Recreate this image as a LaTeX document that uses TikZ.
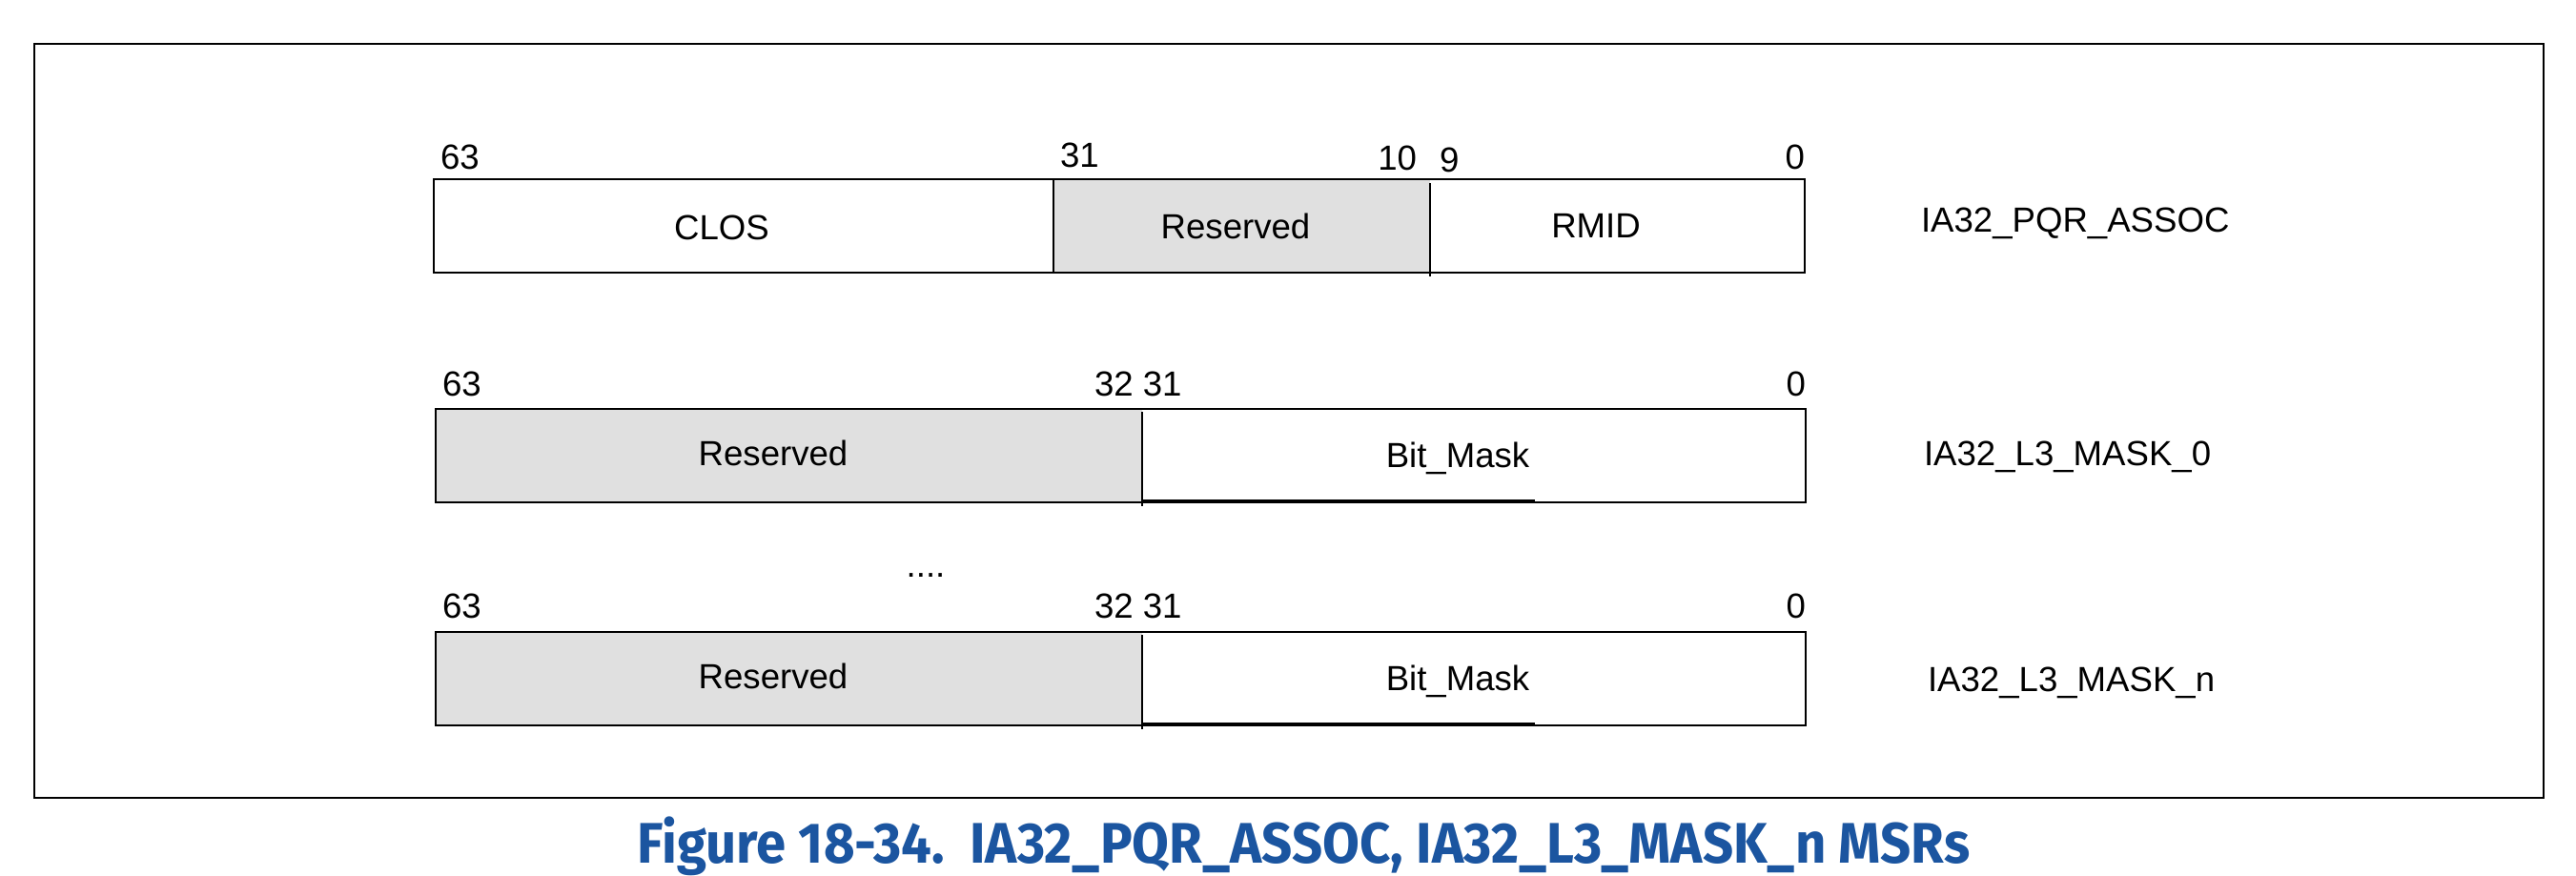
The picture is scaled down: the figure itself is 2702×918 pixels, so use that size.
\documentclass[tikz,border=0pt]{standalone}
\usepackage{fontspec}
\setmainfont{Liberation Sans}
\newfontfamily\capfont{Fira Sans}
\usepackage{graphicx}
\definecolor{resgray}{HTML}{E0E0E0}
\definecolor{capblue}{HTML}{1B55A0}
\begin{document}
\begin{tikzpicture}[x=0.5pt,y=-0.5pt,
  box/.style={draw=black, line width=1pt},
  divline/.style={draw=black, line width=0.6pt},
  lbl/.style={inner sep=0pt, outer sep=0pt, font=\fontsize{18.3}{22}\selectfont},
  capstyle/.style={inner sep=0pt, text=capblue, font=\capfont\bfseries\fontsize{30}{34}\selectfont}]
\useasboundingbox (0,0) rectangle (2702,918);
% outer frame
\draw[line width=1.2pt] (36,46) rectangle (2668,837);

% ---------- IA32_PQR_ASSOC ----------
\fill[resgray] (1105,188) rectangle (1500,286);
\draw[box] (455,188) rectangle (1893,286);
\draw[divline] (1105,188) -- (1105,286);
\draw[divline] (1500,192) -- (1500,290);
\node[lbl, anchor=base west] (a63) at (462,177) {63};
\node[lbl, anchor=base west] (a31) at (1112,175) {31};
\node[lbl, anchor=base east] (a10) at (1486,178) {10};
\node[lbl, anchor=base west] (a9) at (1510,180) {9};
\node[lbl, anchor=base east] (a0) at (1893,177) {0};
\node[lbl, anchor=base] (clos) at (757,251) {CLOS};
\node[lbl, anchor=base] (ares) at (1296,250) {Reserved};
\node[lbl, anchor=base] (rmid) at (1674,249) {RMID};
\node[lbl, anchor=base west] (pqr) at (2015,243) {IA32\_PQR\_ASSOC};

% ---------- IA32_L3_MASK_0 ----------
\fill[resgray] (457,429) rectangle (1198,527);
\draw[box] (457,429) rectangle (1894,527);
\draw[divline] (1198,432) -- (1198,531);
\draw[line width=2pt] (1198,525.5) -- (1610,525.5);
\node[lbl, anchor=base west] (b63) at (464,415) {63};
\node[lbl, anchor=base west] (b3231) at (1148,415) {32 31};
\node[lbl, anchor=base east] (b0) at (1894,415) {0};
\node[lbl, anchor=base] (bres) at (811,488) {Reserved};
\node[lbl, anchor=base] (bmask) at (1529,490) {Bit\_Mask};
\node[lbl, anchor=base west] (mask0) at (2018,488) {IA32\_L3\_MASK\_0};

% dots
\node[lbl, anchor=base] (dots) at (971,605) {....};

% ---------- IA32_L3_MASK_n ----------
\fill[resgray] (457,663) rectangle (1198,761);
\draw[box] (457,663) rectangle (1894,761);
\draw[divline] (1198,666) -- (1198,765);
\draw[line width=2pt] (1198,759.5) -- (1610,759.5);
\node[lbl, anchor=base west] (c63) at (464,648) {63};
\node[lbl, anchor=base west] (c3231) at (1148,648) {32 31};
\node[lbl, anchor=base east] (c0) at (1894,648) {0};
\node[lbl, anchor=base] (cres) at (811,722) {Reserved};
\node[lbl, anchor=base] (cmask) at (1529,724) {Bit\_Mask};
\node[lbl, anchor=base west] (maskn) at (2022,725) {IA32\_L3\_MASK\_n};

% caption
\node[capstyle, anchor=base west] (cap) at (668,905)
  {\resizebox{699pt}{\height}{Figure 18-34.\ \ IA32\_PQR\_ASSOC, IA32\_L3\_MASK\_n MSRs}};
\end{tikzpicture}
\end{document}
